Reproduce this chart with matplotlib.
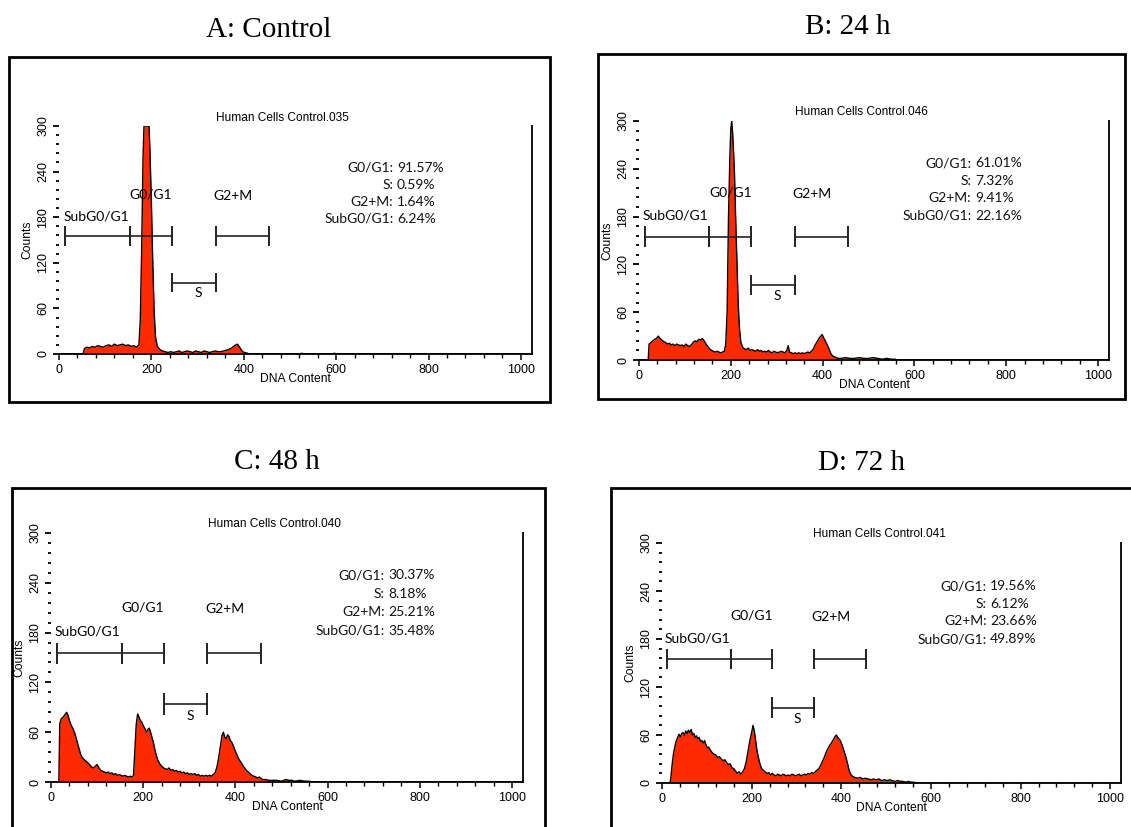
import matplotlib
matplotlib.use("Agg")
import matplotlib.pyplot as plt
from matplotlib.patches import Rectangle
from matplotlib.ticker import MultipleLocator

# ---------------- data ----------------
panel_titles = ["A: Control", "B: 24 h", "C: 48 h", "D: 72 h"]
sample_names = ["Human Cells Control.035", "Human Cells Control.046",
                "Human Cells Control.040", "Human Cells Control.041"]

stat_names = ["G0/G1:", "S:", "G2+M:", "SubG0/G1:"]
stats_a = ["91.57%", "0.59%", "1.64%", "6.24%"]
stats_b = ["61.01%", "7.32%", "9.41%", "22.16%"]
stats_c = ["30.37%", "8.18%", "25.21%", "35.48%"]
stats_d = ["19.56%", "6.12%", "23.66%", "49.89%"]

gate_names = ["SubG0/G1", "G0/G1", "G2+M", "S"]
gate_lo = [12, 153, 339, 245]
gate_hi = [153, 245, 455, 339]
gate_level = [155, 155, 155, 94]
gate_label_x = [80, 199, 377, 302]
gate_label_y = [181, 210, 208, 80]

x_ticks = [0, 200, 400, 600, 800, 1000]
y_ticks = [0, 60, 120, 180, 240, 300]

# histogram traces: (DNA content channel, counts)
hist_a = [(0, 0), (52, 0), (55, 7), (60, 9), (66, 8), (72, 10), (78, 9), (84, 11), (90, 10),
          (96, 9), (102, 11), (108, 12), (114, 10), (120, 13), (126, 11), (132, 12), (138, 13),
          (144, 11), (150, 12), (156, 10), (162, 11), (168, 9), (173, 12), (176, 45), (179, 140),
          (182, 260), (184, 300), (195, 300), (197, 265), (200, 200), (203, 120), (206, 55),
          (209, 22), (213, 10), (218, 6), (224, 4), (230, 3), (236, 2), (242, 3), (248, 2),
          (254, 3), (260, 4), (266, 2), (272, 3), (278, 4), (284, 3), (290, 2), (296, 4),
          (302, 3), (308, 2), (314, 4), (320, 3), (326, 2), (332, 3), (338, 4), (344, 3),
          (350, 3), (356, 4), (362, 5), (368, 6), (374, 8), (380, 11), (386, 13), (390, 10),
          (394, 6), (398, 3), (402, 2), (408, 1), (412, 0), (520, 0), (526, 1), (532, 0),
          (538, 0), (590, 0), (596, 1), (602, 0), (1024, 0)]

hist_b = [(0, 0), (20, 0), (22, 20), (26, 22), (30, 24), (34, 26), (38, 27), (42, 30), (46, 27),
          (50, 25), (54, 23), (58, 22), (62, 20), (66, 21), (70, 19), (74, 20), (78, 18), (82, 20),
          (86, 19), (90, 18), (94, 19), (98, 17), (102, 20), (106, 18), (110, 17), (114, 19),
          (118, 22), (122, 24), (126, 23), (130, 26), (134, 25), (138, 27), (142, 24), (146, 20),
          (150, 17), (154, 14), (158, 12), (162, 11), (166, 10), (170, 11), (174, 10), (178, 9),
          (182, 10), (186, 11), (189, 20), (192, 60), (195, 180), (198, 256), (200, 290),
          (202, 300), (204, 285), (206, 262), (208, 235), (210, 190), (213, 131), (216, 72),
          (219, 39), (222, 22), (226, 16), (230, 14), (234, 13), (238, 15), (242, 12), (246, 13),
          (250, 12), (254, 11), (258, 13), (262, 11), (266, 12), (270, 10), (274, 11), (278, 10),
          (282, 12), (286, 10), (290, 9), (294, 11), (298, 10), (302, 9), (306, 10), (310, 11),
          (314, 10), (318, 9), (322, 12), (325, 18), (328, 10), (332, 9), (336, 8), (340, 9),
          (344, 8), (348, 9), (352, 8), (356, 9), (360, 8), (364, 9), (368, 10), (372, 9),
          (376, 11), (380, 14), (384, 19), (388, 23), (392, 27), (396, 30), (399, 32), (402, 28),
          (406, 24), (410, 19), (414, 14), (418, 8), (422, 5), (426, 4), (430, 3), (434, 2),
          (440, 2), (450, 3), (460, 2), (470, 2), (480, 3), (490, 2), (500, 2), (510, 3),
          (520, 2), (530, 1), (540, 2), (550, 1), (558, 1), (562, 0), (1024, 0)]

hist_c = [(0, 0), (17, 0), (19, 70), (22, 76), (26, 78), (30, 81), (34, 84), (37, 80), (40, 74),
          (44, 68), (48, 64), (52, 58), (56, 50), (60, 42), (64, 34), (68, 29), (72, 27), (76, 25),
          (80, 23), (84, 21), (88, 18), (92, 17), (96, 19), (100, 21), (104, 17), (108, 14),
          (112, 13), (116, 12), (120, 11), (124, 12), (128, 10), (132, 11), (136, 9), (140, 10),
          (144, 8), (148, 9), (152, 8), (156, 7), (160, 8), (164, 7), (168, 6), (172, 7), (176, 6),
          (179, 8), (182, 40), (185, 70), (188, 82), (191, 78), (194, 74), (197, 72), (200, 68),
          (204, 64), (207, 60), (210, 63), (213, 65), (216, 60), (219, 54), (222, 48), (225, 40),
          (228, 33), (232, 26), (236, 22), (240, 19), (244, 17), (248, 16), (252, 15), (256, 17),
          (260, 14), (264, 15), (268, 13), (272, 14), (276, 12), (280, 13), (284, 11), (288, 12),
          (292, 10), (296, 11), (300, 9), (304, 10), (308, 9), (312, 10), (316, 8), (320, 9),
          (324, 7), (328, 8), (332, 7), (336, 8), (340, 7), (344, 8), (348, 7), (352, 9), (356, 11),
          (360, 18), (364, 30), (368, 45), (371, 56), (374, 60), (377, 54), (380, 52), (383, 57),
          (386, 55), (389, 50), (392, 48), (396, 43), (400, 37), (404, 32), (408, 27), (412, 24),
          (416, 20), (420, 17), (424, 14), (428, 12), (432, 10), (436, 8), (440, 7), (444, 6),
          (448, 5), (452, 6), (456, 4), (460, 3), (466, 3), (472, 2), (480, 2), (490, 2),
          (500, 1), (510, 3), (516, 2), (522, 2), (530, 1), (540, 2), (550, 1), (560, 1),
          (566, 0), (1024, 0)]

hist_d = [(0, 0), (18, 0), (20, 8), (23, 25), (26, 38), (29, 46), (32, 53), (35, 57), (38, 61),
          (41, 58), (44, 62), (47, 63), (50, 60), (53, 65), (56, 62), (59, 66), (62, 63), (65, 67),
          (68, 60), (71, 62), (74, 57), (77, 59), (80, 55), (83, 57), (86, 52), (89, 53), (92, 50),
          (95, 53), (98, 48), (101, 44), (104, 45), (108, 41), (112, 38), (116, 36), (120, 35),
          (124, 32), (128, 33), (132, 30), (136, 28), (140, 29), (144, 26), (148, 23), (152, 24),
          (156, 19), (160, 18), (164, 15), (168, 12), (172, 14), (176, 11), (180, 14), (184, 18),
          (188, 27), (192, 40), (196, 53), (200, 63), (203, 72), (206, 65), (209, 53), (212, 40),
          (215, 32), (218, 25), (222, 18), (226, 16), (230, 14), (234, 12), (238, 13), (242, 10),
          (246, 12), (250, 10), (254, 9), (258, 11), (262, 10), (266, 9), (270, 11), (274, 10),
          (278, 9), (282, 10), (286, 9), (290, 11), (294, 10), (298, 9), (302, 10), (306, 11),
          (310, 9), (314, 10), (318, 11), (322, 10), (326, 12), (330, 11), (334, 13), (338, 12),
          (342, 14), (346, 16), (350, 18), (354, 22), (358, 27), (362, 32), (366, 38), (370, 43),
          (374, 47), (378, 50), (382, 54), (386, 58), (389, 60), (392, 57), (395, 55), (398, 53),
          (402, 47), (406, 40), (410, 33), (414, 24), (418, 15), (422, 10), (426, 8), (430, 7),
          (436, 6), (442, 7), (448, 5), (454, 6), (460, 5), (466, 4), (472, 5), (478, 4),
          (484, 5), (490, 3), (496, 4), (502, 3), (508, 4), (514, 3), (520, 2), (526, 3),
          (532, 2), (538, 2), (544, 1), (550, 2), (556, 1), (562, 1), (568, 0), (1024, 0)]

# ---------------- layout (pixels of a 1131x827 canvas) ----------------
W, H = 1131, 827
# frame boxes: left, top, right, bottom
frames = [(9, 57, 550, 402), (598, 54, 1125, 399), (12, 488, 545, 845), (611, 488, 1145, 845)]
# axes: x of channel 0, x of channel 1024, y of count 0, y of count 300
axes_px = [(59, 532, 354, 126), (639, 1109, 360, 121), (51, 523, 782, 533), (662, 1121, 783, 543)]
title_px = [(269, 30), (848, 27), (277, 462), (862, 463)]
stat_rows_y = [(245, 222, 200, 178), (247, 225, 203, 181), (249, 227, 205, 182), (246, 224, 202, 180)]

RED = "#ff2a00"
SANS = ["Liberation Sans", "DejaVu Sans"]
CAL = ["Lato", "DejaVu Sans"]

fig = plt.figure(figsize=(W / 100, H / 100), dpi=100)
fig.patch.set_facecolor("white")

all_hist = [hist_a, hist_b, hist_c, hist_d]
all_stats = [stats_a, stats_b, stats_c, stats_d]

for i in range(4):
    l, t, r, b = frames[i]
    fig.patches.append(Rectangle((l / W, 1 - b / H), (r - l) / W, (b - t) / H,
                                 transform=fig.transFigure, fill=False,
                                 edgecolor="black", linewidth=2.0))
    tx, ty = title_px[i]
    fig.text(tx / W, 1 - ty / H, panel_titles[i], ha="center", va="center",
             fontsize=21, family=["Liberation Serif", "DejaVu Serif"])

    x0, x1, y0, y1 = axes_px[i]
    ax = fig.add_axes([x0 / W, 1 - y0 / H, (x1 - x0) / W, (y0 - y1) / H])
    ax.set_xlim(0, 1024)
    ax.set_ylim(0, 300)
    ax.patch.set_alpha(0)

    xs = [p[0] for p in all_hist[i]]
    ys = [p[1] for p in all_hist[i]]
    ax.fill_between(xs, ys, 0, color=RED, linewidth=0, zorder=2)
    ax.plot(xs, ys, color="black", linewidth=1.0, zorder=3)

    for s in ["top", "left"]:
        ax.spines[s].set_visible(False)
    for s in ["right", "bottom"]:
        ax.spines[s].set_linewidth(1.4)
        ax.spines[s].set_color("#111111")

    ax.set_xticks(x_ticks)
    ax.set_yticks(y_ticks)
    ax.xaxis.set_minor_locator(MultipleLocator(40))
    ax.yaxis.set_minor_locator(MultipleLocator(12))
    ax.tick_params(axis="x", which="major", direction="out", length=4, width=1.1,
                   labelsize=9, pad=3)
    ax.tick_params(axis="x", which="minor", direction="out", length=3, width=1.0)
    ax.tick_params(axis="y", which="major", direction="out", length=4, width=1.3,
                   labelsize=9, pad=3)
    ax.tick_params(axis="y", which="minor", direction="out", length=2, width=1.3)
    for lab in ax.get_yticklabels():
        lab.set_rotation(90)
        lab.set_va("center")
        lab.set_family(SANS)
    for lab in ax.get_xticklabels():
        lab.set_family(SANS)
    ax.set_xlabel("DNA Content", fontsize=8.7, labelpad=-2, family=SANS)
    ax.set_ylabel("Counts", fontsize=8.7, labelpad=3, family=SANS)

    ax.text(484, 311, sample_names[i], ha="center", va="center", fontsize=8.6,
            family=SANS, clip_on=False)

    # gates
    for g in range(4):
        ax.plot([gate_lo[g], gate_hi[g]], [gate_level[g], gate_level[g]],
                color="#222222", linewidth=1.2, zorder=4)
        ax.vlines([gate_lo[g], gate_hi[g]], gate_level[g] - 13, gate_level[g] + 13,
                  color="#222222", linewidth=1.4, zorder=4)
        ax.text(gate_label_x[g], gate_label_y[g], gate_names[g], ha="center",
                va="center", fontsize=10, family=CAL, zorder=5)

    # statistics
    for k in range(4):
        yk = stat_rows_y[i][k]
        ax.text(724, yk, stat_names[k], ha="right", va="center", fontsize=10,
                family=CAL, color="#111111")
        ax.text(732, yk, all_stats[i][k], ha="left", va="center", fontsize=10,
                family=CAL, color="#111111")

fig.savefig("out.png", dpi=100, facecolor="white")
